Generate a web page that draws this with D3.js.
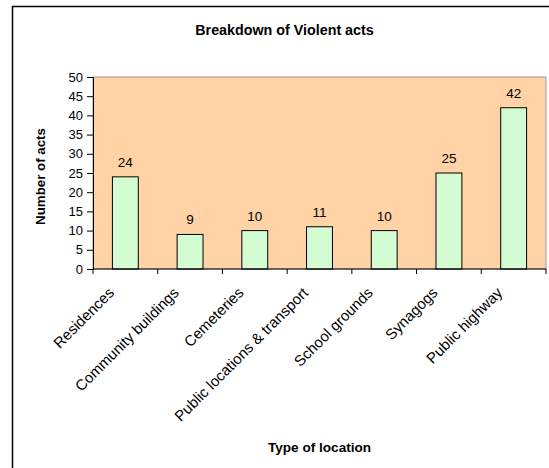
<!DOCTYPE html>
<html>
<head>
<meta charset="utf-8">
<script src="https://cdn.jsdelivr.net/npm/d3@7"></script>
<style>
  body { margin: 0; background: #fff; }
  text { font-family: "Liberation Sans", Arial, sans-serif; }
</style>
</head>
<body>
<svg id="chart"></svg>
<script>
var categories = ["Residences", "Community buildings", "Cemeteries", "Public locations & transport", "School grounds", "Synagogs", "Public highway"];
var values = [24, 9, 10, 11, 10, 25, 42];
var yTicks = [0, 5, 10, 15, 20, 25, 30, 35, 40, 45, 50];

var W = 549, H = 468;
var margin = {left: 93, right: 3, top: 77, bottom: 199};
var width = W - margin.left - margin.right;
var height = H - margin.top - margin.bottom;

var svg = d3.select("#chart").attr("width", W).attr("height", H);

// outer frame (cut off on right and bottom)
svg.append("rect")
    .attr("x", 12.5).attr("y", 6.5)
    .attr("width", 560).attr("height", 480)
    .attr("fill", "#fff").attr("stroke", "#000").attr("stroke-width", 1.5);

var g = svg.append("g")
    .attr("transform", "translate(" + [margin.left, margin.top] + ")");

var x = d3.scaleBand().domain(categories).range([0, width]).paddingInner(0).paddingOuter(0);
var y = d3.scaleLinear().domain([0, 50]).range([height, 0]);

g.append("rect")
    .attr("width", width).attr("height", height)
    .attr("fill", "#FFD3A6").attr("stroke", "#999").attr("stroke-width", 1);

var bw = x.bandwidth() / 2.5;
g.selectAll(".bar")
    .data(values)
    .enter().append("rect")
    .attr("class", "bar")
    .attr("x", function (d, i) { return x(categories[i]) + (x.bandwidth() - bw) / 2; })
    .attr("y", function (d) { return y(d); })
    .attr("width", bw)
    .attr("height", function (d) { return height - y(d); })
    .attr("fill", "#D3FCD3").attr("stroke", "#000").attr("stroke-width", 1);

g.selectAll(".val")
    .data(values)
    .enter().append("text")
    .attr("x", function (d, i) { return x(categories[i]) + x.bandwidth() / 2; })
    .attr("y", function (d) { return y(d) - 10; })
    .attr("text-anchor", "middle")
    .style("font-size", "13.5px")
    .text(function (d) { return d; });

var yAxis = d3.axisLeft(y).tickValues(yTicks).tickSize(6).tickPadding(4);
g.append("g").call(yAxis)
    .call(function (a) { a.select(".domain").attr("stroke", "#000"); })
    .selectAll("text").style("font-size", "13px").attr("fill", "#000");

// x axis with ticks at category boundaries
var xa = g.append("g").attr("transform", "translate(0," + height + ")");
xa.append("line").attr("x1", 0).attr("x2", width).attr("stroke", "#000");
xa.selectAll(".xt")
    .data(d3.range(categories.length + 1))
    .enter().append("line")
    .attr("x1", function (i) { return i * x.step(); })
    .attr("x2", function (i) { return i * x.step(); })
    .attr("y1", 0).attr("y2", 5).attr("stroke", "#000");

xa.selectAll(".xl")
    .data(categories)
    .enter().append("text")
    .attr("transform", function (d) {
        return "translate(" + (x(d) + x.bandwidth() / 2 - 14) + ",21)rotate(-45)";
    })
    .attr("text-anchor", "end")
    .attr("dy", "0.35em")
    .style("font-size", "15px")
    .text(function (d) { return d; });

svg.append("text")
    .attr("x", 284.5).attr("y", 35)
    .attr("text-anchor", "middle")
    .style("font-size", "14.3px").style("font-weight", "bold")
    .text("Breakdown of Violent acts");

svg.append("text")
    .attr("transform", "translate(45,176.5)rotate(-90)")
    .attr("text-anchor", "middle")
    .style("font-size", "13.3px").style("font-weight", "bold")
    .text("Number of acts");

svg.append("text")
    .attr("x", margin.left + width / 2).attr("y", 452)
    .attr("text-anchor", "middle")
    .style("font-size", "13.6px").style("font-weight", "bold")
    .text("Type of location");
</script>
</body>
</html>
